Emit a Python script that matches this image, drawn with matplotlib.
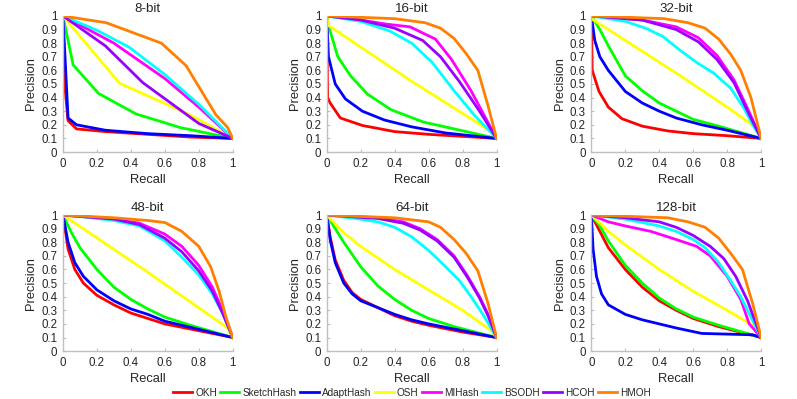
import matplotlib
matplotlib.use('Agg')
import matplotlib.pyplot as plt

plt.rcParams['font.family'] = ['Liberation Sans', 'DejaVu Sans']

methods = ['OKH', 'SketchHash', 'AdaptHash', 'OSH', 'MIHash', 'BSODH', 'HCOH', 'HMOH']
colors = ['#ff0000', '#00ff00', '#0000ff', '#ffff00', '#ff00ff', '#00ffff', '#9b00ff', '#ff8000']
titles = ['8-bit', '16-bit', '32-bit', '48-bit', '64-bit', '128-bit']

# (recall, precision) per method, per panel
pr_8 = {
    'OKH': ([0, 0.01, 0.03, 0.08, 0.25, 0.5, 0.75, 1], [1, 0.5, 0.23, 0.17, 0.15, 0.13, 0.11, 0.1]),
    'SketchHash': ([0, 0.06, 0.21, 0.43, 0.69, 1], [1, 0.64, 0.43, 0.28, 0.18, 0.1]),
    'AdaptHash': ([0, 0.03, 0.08, 0.25, 0.5, 0.75, 1], [1, 0.25, 0.2, 0.16, 0.135, 0.12, 0.1]),
    'OSH': ([0, 0.333, 0.745, 1], [1, 0.506, 0.275, 0.1]),
    'MIHash': ([0, 0.3, 0.6, 0.8, 1], [1, 0.8, 0.54, 0.33, 0.1]),
    'BSODH': ([0, 0.2, 0.39, 0.6, 0.8, 1], [1, 0.895, 0.77, 0.57, 0.35, 0.1]),
    'HCOH': ([0, 0.25, 0.47, 0.8, 1], [1, 0.78, 0.51, 0.21, 0.1]),
    'HMOH': ([0, 0.255, 0.58, 0.725, 0.9, 0.97, 1], [1, 0.95, 0.8, 0.635, 0.275, 0.18, 0.1]),
}
pr_16 = {
    'OKH': ([0, 0.005, 0.02, 0.08, 0.21, 0.4, 0.6, 0.8, 1], [1, 0.4, 0.36, 0.25, 0.195, 0.15, 0.13, 0.115, 0.1]),
    'SketchHash': ([0, 0.01, 0.065, 0.14, 0.24, 0.38, 0.57, 0.75, 1], [1, 0.93, 0.7, 0.56, 0.425, 0.31, 0.22, 0.17, 0.1]),
    'AdaptHash': ([0, 0.01, 0.05, 0.11, 0.21, 0.34, 0.5, 0.7, 1], [1, 0.7, 0.5, 0.39, 0.3, 0.235, 0.185, 0.14, 0.1]),
    'OSH': ([0, 0.01, 0.5, 0.97, 1], [1, 0.93, 0.52, 0.15, 0.1]),
    'MIHash': ([0, 0.2, 0.35, 0.49, 0.64, 0.735, 0.85, 1], [1, 0.97, 0.94, 0.92, 0.83, 0.68, 0.45, 0.1]),
    'BSODH': ([0, 0.2, 0.37, 0.5, 0.62, 0.75, 0.87, 1], [1, 0.96, 0.89, 0.8, 0.66, 0.45, 0.27, 0.1]),
    'HCOH': ([0, 0.2, 0.4, 0.565, 0.67, 0.78, 0.9, 1], [1, 0.97, 0.91, 0.82, 0.7, 0.52, 0.3, 0.1]),
    'HMOH': ([0, 0.4, 0.58, 0.67, 0.75, 0.82, 0.89, 0.95, 1], [1, 0.98, 0.95, 0.91, 0.835, 0.725, 0.6, 0.34, 0.1]),
}
pr_32 = {
    'OKH': ([0, 0.005, 0.045, 0.1, 0.18, 0.3, 0.45, 0.6, 0.8, 1], [1, 0.6, 0.445, 0.33, 0.245, 0.19, 0.155, 0.135, 0.12, 0.1]),
    'SketchHash': ([0, 0.05, 0.1, 0.2, 0.3, 0.4, 0.5, 0.6, 0.75, 1], [1, 0.9, 0.78, 0.56, 0.45, 0.36, 0.3, 0.24, 0.19, 0.1]),
    'AdaptHash': ([0, 0.02, 0.05, 0.1, 0.2, 0.3, 0.4, 0.5, 0.65, 0.8, 1], [1, 0.82, 0.7, 0.6, 0.445, 0.36, 0.3, 0.25, 0.2, 0.16, 0.1]),
    'OSH': ([0, 0.2, 0.5, 0.8, 0.97, 1], [0.98, 0.82, 0.58, 0.33, 0.18, 0.1]),
    'MIHash': ([0, 0.3, 0.5, 0.63, 0.74, 0.84, 0.92, 1], [1, 0.97, 0.92, 0.84, 0.71, 0.53, 0.32, 0.1]),
    'BSODH': ([0, 0.2, 0.32, 0.42, 0.52, 0.63, 0.72, 0.82, 0.9, 0.95, 1], [1, 0.96, 0.91, 0.85, 0.75, 0.65, 0.58, 0.47, 0.32, 0.2, 0.1]),
    'HCOH': ([0, 0.3, 0.5, 0.63, 0.74, 0.84, 0.92, 1], [1, 0.97, 0.9, 0.81, 0.68, 0.51, 0.3, 0.1]),
    'HMOH': ([0, 0.43, 0.57, 0.67, 0.75, 0.82, 0.88, 0.94, 1], [1, 0.98, 0.95, 0.91, 0.83, 0.72, 0.6, 0.4, 0.1]),
}
pr_48 = {
    'OKH': ([0, 0.03, 0.07, 0.12, 0.2, 0.3, 0.4, 0.5, 0.6, 0.8, 1], [1, 0.75, 0.6, 0.5, 0.41, 0.34, 0.28, 0.24, 0.2, 0.15, 0.1]),
    'SketchHash': ([0, 0.05, 0.1, 0.2, 0.3, 0.4, 0.5, 0.6, 0.75, 1], [1, 0.87, 0.76, 0.6, 0.47, 0.38, 0.31, 0.25, 0.19, 0.1]),
    'AdaptHash': ([0, 0.03, 0.07, 0.12, 0.2, 0.3, 0.4, 0.5, 0.6, 0.8, 1], [1, 0.8, 0.65, 0.55, 0.45, 0.37, 0.31, 0.27, 0.22, 0.16, 0.1]),
    'OSH': ([0, 0.5, 0.97, 1], [1, 0.58, 0.17, 0.1]),
    'MIHash': ([0, 0.3, 0.45, 0.6, 0.7, 0.8, 0.88, 0.94, 1], [1, 0.97, 0.94, 0.86, 0.77, 0.63, 0.47, 0.3, 0.1]),
    'BSODH': ([0, 0.1, 0.3, 0.45, 0.6, 0.7, 0.8, 0.88, 0.94, 1], [1, 0.99, 0.96, 0.92, 0.81, 0.69, 0.56, 0.42, 0.28, 0.1]),
    'HCOH': ([0, 0.3, 0.45, 0.6, 0.7, 0.8, 0.88, 0.94, 1], [1, 0.97, 0.93, 0.83, 0.73, 0.59, 0.44, 0.28, 0.1]),
    'HMOH': ([0, 0.3, 0.5, 0.6, 0.7, 0.8, 0.87, 0.92, 0.96, 1], [1, 0.98, 0.96, 0.945, 0.88, 0.77, 0.62, 0.44, 0.25, 0.1]),
}
pr_64 = {
    'OKH': ([0, 0.02, 0.05, 0.1, 0.15, 0.2, 0.3, 0.4, 0.5, 0.6, 0.8, 1], [1, 0.84, 0.67, 0.52, 0.43, 0.38, 0.32, 0.26, 0.22, 0.19, 0.14, 0.1]),
    'SketchHash': ([0, 0.05, 0.1, 0.2, 0.3, 0.4, 0.5, 0.6, 0.75, 1], [1, 0.9, 0.8, 0.62, 0.48, 0.38, 0.3, 0.24, 0.18, 0.1]),
    'AdaptHash': ([0, 0.02, 0.05, 0.1, 0.15, 0.2, 0.3, 0.4, 0.5, 0.6, 0.8, 1], [1, 0.82, 0.65, 0.5, 0.42, 0.37, 0.32, 0.27, 0.23, 0.2, 0.15, 0.1]),
    'OSH': ([0, 0.1, 0.2, 0.4, 0.6, 0.8, 0.97, 1], [1, 0.87, 0.77, 0.6, 0.45, 0.3, 0.15, 0.1]),
    'MIHash': ([0, 0.3, 0.45, 0.55, 0.65, 0.75, 0.83, 0.9, 0.95, 1], [1, 0.98, 0.95, 0.9, 0.82, 0.7, 0.55, 0.4, 0.27, 0.1]),
    'BSODH': ([0, 0.2, 0.3, 0.4, 0.5, 0.6, 0.7, 0.78, 0.85, 0.92, 1], [1, 0.97, 0.95, 0.91, 0.84, 0.74, 0.62, 0.52, 0.4, 0.27, 0.1]),
    'HCOH': ([0, 0.3, 0.45, 0.55, 0.65, 0.75, 0.83, 0.9, 0.95, 1], [1, 0.975, 0.94, 0.89, 0.81, 0.69, 0.54, 0.39, 0.26, 0.1]),
    'HMOH': ([0, 0.4, 0.6, 0.67, 0.75, 0.82, 0.89, 0.95, 1], [1, 0.98, 0.95, 0.91, 0.82, 0.72, 0.59, 0.35, 0.1]),
}
pr_128 = {
    'OKH': ([0, 0.05, 0.1, 0.2, 0.3, 0.4, 0.5, 0.6, 0.75, 1], [1, 0.88, 0.76, 0.6, 0.47, 0.37, 0.3, 0.24, 0.18, 0.1]),
    'SketchHash': ([0, 0.05, 0.1, 0.2, 0.3, 0.4, 0.5, 0.6, 0.75, 1], [1, 0.92, 0.81, 0.63, 0.5, 0.39, 0.31, 0.25, 0.19, 0.1]),
    'AdaptHash': ([0, 0.01, 0.03, 0.06, 0.1, 0.2, 0.3, 0.5, 0.65, 0.8, 0.95, 1], [1, 0.75, 0.55, 0.42, 0.34, 0.27, 0.23, 0.17, 0.13, 0.125, 0.12, 0.1]),
    'OSH': ([0, 0.1, 0.2, 0.4, 0.6, 0.8, 0.95, 1], [1, 0.88, 0.78, 0.6, 0.44, 0.3, 0.19, 0.1]),
    'MIHash': ([0, 0.1, 0.2, 0.35, 0.5, 0.62, 0.7, 0.8, 0.88, 0.93, 1], [1, 0.95, 0.92, 0.88, 0.82, 0.77, 0.7, 0.55, 0.38, 0.2, 0.1]),
    'BSODH': ([0, 0.2, 0.4, 0.5, 0.6, 0.67, 0.75, 0.82, 0.88, 0.94, 1], [1, 0.97, 0.92, 0.88, 0.82, 0.76, 0.65, 0.52, 0.4, 0.25, 0.1]),
    'HCOH': ([0, 0.2, 0.4, 0.5, 0.6, 0.7, 0.78, 0.85, 0.92, 1], [1, 0.98, 0.95, 0.91, 0.85, 0.77, 0.68, 0.55, 0.37, 0.1]),
    'HMOH': ([0, 0.45, 0.57, 0.67, 0.75, 0.82, 0.89, 0.95, 1], [1, 0.98, 0.95, 0.91, 0.83, 0.72, 0.6, 0.35, 0.1]),
}
panels = [pr_8, pr_16, pr_32, pr_48, pr_64, pr_128]

fig = plt.figure(figsize=(7.97, 3.99), dpi=100)
lefts = [0.079, 0.410, 0.742]
bottoms = [0.619, 0.120]
axis_col = '#c0c0c0'
text_col = '#262626'

for k, data in enumerate(panels):
    ax = fig.add_axes([lefts[k % 3], bottoms[k // 3], 0.213, 0.341])
    for m, c in zip(methods, colors):
        r, p = data[m]
        ax.plot(r, p, color=c, lw=2, label=m, solid_joinstyle='round')
    ax.set_xlim(0, 1)
    ax.set_ylim(0, 1)
    ax.set_xticks([0, 0.2, 0.4, 0.6, 0.8, 1])
    ax.set_xticklabels(['0', '0.2', '0.4', '0.6', '0.8', '1'])
    ax.set_yticks([i / 10 for i in range(11)])
    ax.set_yticklabels(['0'] + ['%.1f' % (i / 10) for i in range(1, 10)] + ['1'])
    for s in ['top', 'right']:
        ax.spines[s].set_visible(False)
    for s in ['left', 'bottom']:
        ax.spines[s].set_color(axis_col)
        ax.spines[s].set_linewidth(1)
    ax.tick_params(direction='in', length=2, width=0.8, color=axis_col,
                   labelsize=8.3, pad=4, labelcolor=text_col)
    ax.set_title(titles[k], fontsize=9.6, pad=3, color=text_col)
    ax.set_xlabel('Recall', fontsize=9.3, labelpad=3, color=text_col)
    ax.set_ylabel('Precision', fontsize=9.3, labelpad=3, color=text_col)

handles, labels = ax.get_legend_handles_labels()
fig.legend(handles, labels, loc='center', bbox_to_anchor=(0.517, 0.016), ncol=8,
           frameon=False, fontsize=7.2, handlelength=1.9, handletextpad=0.3,
           columnspacing=0.35, borderpad=0, labelcolor=text_col)

fig.savefig('out.png', dpi=100)
